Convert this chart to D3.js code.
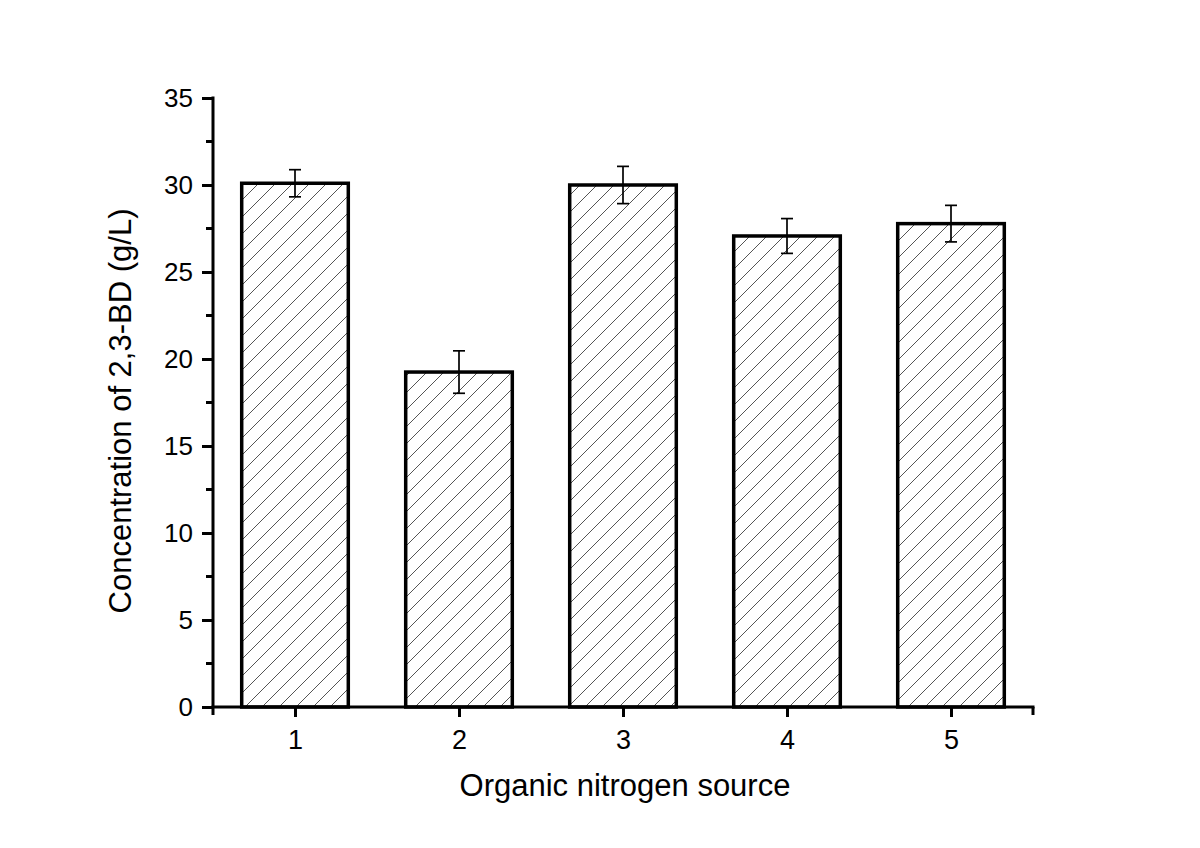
<!DOCTYPE html>
<html><head><meta charset="utf-8">
<script src="https://cdn.jsdelivr.net/npm/d3@7"></script>
<style>body{margin:0;background:#fff}svg{display:block}text{font-family:"Liberation Sans",Arial,sans-serif;fill:#000}</style>
</head><body><svg id="c" width="1200" height="848"></svg>
<script>
const categories = [1, 2, 3, 4, 5];
const values = [30.1, 19.25, 30.0, 27.07, 27.78];
const errors = [0.78, 1.22, 1.07, 1.0, 1.05];
const yTicks = [0, 5, 10, 15, 20, 25, 30, 35];
const xLabel = "Organic nitrogen source";
const yLabel = "Concentration of 2,3-BD (g/L)";

const svg = d3.select("#c");
const L = 213, R = 1033, T = 98, B = 707;
const x = d3.scaleLinear().domain([0.5, 5.5]).range([L, R]);
const y = d3.scaleLinear().domain([0, 35]).range([B, T]);
const bw = x(1.65) - x(1);

const defs = svg.append("defs");
const pat = defs.append("pattern").attr("id", "hatch").attr("patternUnits", "userSpaceOnUse")
  .attr("width", 17).attr("height", 17);
pat.append("rect").attr("width", 17).attr("height", 17).attr("fill", "#fff");
pat.append("path").attr("d", "M-1,18 L18,-1 M-9,9 L9,-9 M8,26 L26,8").attr("stroke", "#555").attr("stroke-width", 1);

svg.selectAll("rect.bar").data(categories).join("rect").attr("class", "bar")
  .attr("x", (d) => x(d) - bw / 2).attr("width", bw)
  .attr("y", (d, i) => y(values[i])).attr("height", (d, i) => B - y(values[i]))
  .attr("fill", "url(#hatch)").attr("stroke", "#000").attr("stroke-width", 3.5);

const eb = svg.append("g").attr("stroke", "#000").attr("stroke-width", 1.7);
categories.forEach((c, i) => {
  const cx = x(c), hi = y(values[i] + errors[i]), lo = y(values[i] - errors[i]);
  eb.append("line").attr("x1", cx).attr("x2", cx).attr("y1", hi).attr("y2", lo);
  eb.append("line").attr("x1", cx - 6).attr("x2", cx + 6).attr("y1", hi).attr("y2", hi);
  eb.append("line").attr("x1", cx - 6).attr("x2", cx + 6).attr("y1", lo).attr("y2", lo);
});

// y axis
const ya = svg.append("g").attr("transform", `translate(${L},0)`)
  .call(d3.axisLeft(y).tickValues(yTicks).tickSize(11).tickPadding(9).tickFormat(d3.format("d")));
ya.attr("font-size", null);
ya.select(".domain").remove();
ya.selectAll(".tick line").attr("stroke-width", 3);
ya.selectAll(".tick text").style("font-size", "26px");
const minor = d3.range(2.5, 35, 5);
svg.append("g").selectAll("line").data(minor).join("line")
  .attr("x1", L - 7).attr("x2", L).attr("y1", (d) => y(d)).attr("y2", (d) => y(d))
  .attr("stroke", "#000").attr("stroke-width", 3);
svg.append("line").attr("x1", L).attr("x2", L).attr("y1", T - 1.5).attr("y2", B + 8)
  .attr("stroke", "#000").attr("stroke-width", 3);

// x axis
const xa = svg.append("g").attr("transform", `translate(0,${B})`)
  .call(d3.axisBottom(x).tickValues(categories).tickSize(10).tickPadding(13).tickFormat(d3.format("d")));
xa.attr("font-size", null);
xa.select(".domain").remove();
xa.selectAll(".tick line").attr("stroke-width", 3);
xa.selectAll(".tick text").style("font-size", "27px");
svg.append("line").attr("x1", L - 1.5).attr("x2", R + 1.5).attr("y1", B).attr("y2", B)
  .attr("stroke", "#000").attr("stroke-width", 3);
svg.append("line").attr("x1", R).attr("x2", R).attr("y1", B).attr("y2", B + 8)
  .attr("stroke", "#000").attr("stroke-width", 3);

svg.append("text").attr("x", (L + R) / 2 + 2).attr("y", 796).attr("text-anchor", "middle")
  .style("font-size", "31px").text(xLabel);
svg.append("text").attr("transform", `translate(131,411) rotate(-90)`)
  .attr("text-anchor", "middle").style("font-size", "31px").text(yLabel);
</script></body></html>
